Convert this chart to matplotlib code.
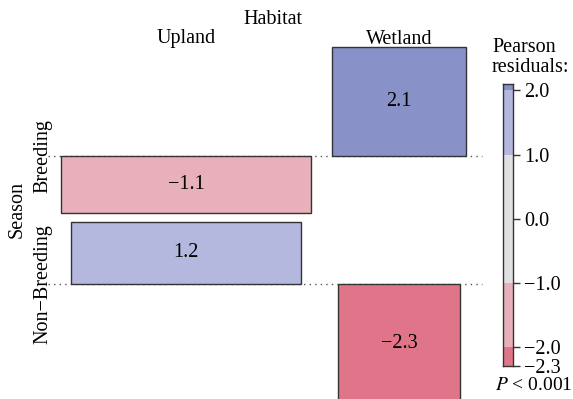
import numpy as np
import matplotlib
matplotlib.use('Agg')
import matplotlib.pyplot as plt

plt.rcParams['font.family'] = ['Liberation Serif', 'DejaVu Serif']
plt.rcParams['mathtext.fontset'] = 'stix'

# ---- data ----
habitat = ['Upland', 'Wetland']
season = ['Breeding', 'Non\u2212Breeding']
residuals = np.array([[-1.1, 2.1],
                      [1.2, -2.3]])
expected = np.array([[156.0, 45.5],
                     [133.0, 37.8]])   # bar width ~ sqrt(expected)
legend_breaks = [-2.3, -2.0, -1.0, 1.0, 2.0, 2.1]
legend_ticks = [2.0, 1.0, 0.0, -1.0, -2.0, -2.3]
p_text = '$P$ < 0.001'

fs = 14.5

# colours for shading levels
c_pos2 = '#8991c9'
c_pos1 = '#b4b8de'
c_mid = '#e0e0e0'
c_neg1 = '#e8b0ba'
c_neg2 = '#e0758a'


def shade(r):
    if r > 2:
        return c_pos2
    if r > 1:
        return c_pos1
    if r < -2:
        return c_neg2
    if r < -1:
        return c_neg1
    return c_mid


def fmt(v):
    return ('%.1f' % v).replace('-', '\u2212')


fig = plt.figure(figsize=(5.73, 3.99), dpi=100)
# axes reaches a bit below the figure so the big bar runs off the bottom
ax = fig.add_axes([0, -20 / 399, 1, 419 / 399])
ax.set_xlim(0, 573)
ax.set_ylim(419, 0)
ax.axis('off')

col_x = [186, 399]     # column centres (px)
row_y = [156, 284]     # baselines (px)
hscale = 52.0          # px per residual unit
wscale = 20.0          # px per sqrt(expected)

for i in range(2):
    ax.plot([48, 482], [row_y[i], row_y[i]], ls=(0, (1, 3)), color='#555555',
            lw=1, zorder=1)
    for j in range(2):
        r = residuals[i, j]
        w = np.sqrt(expected[i, j]) * wscale
        ax.bar(col_x[j], -r * hscale, width=w, bottom=row_y[i],
               color=shade(r), edgecolor='#333333', linewidth=1, zorder=2)
        ax.text(col_x[j], row_y[i] - r * hscale / 2, fmt(r),
                ha='center', va='center', fontsize=fs, zorder=3)

# labels
ax.text(273, 20, 'Habitat', ha='center', va='center', fontsize=fs)
for j in range(2):
    ax.text(col_x[j], 39, habitat[j], ha='center', va='center', fontsize=fs)
for i in range(2):
    ax.text(43, row_y[i], season[i], ha='center', va='center', rotation=90, fontsize=fs)
ax.text(17, 210, 'Season', ha='center', va='center', rotation=90, fontsize=fs)

ax.text(492, 48, 'Pearson', ha='left', va='center', fontsize=fs)
ax.text(492, 68, 'residuals:', ha='left', va='center', fontsize=fs)
ax.text(534, 386, p_text, ha='center', va='center', fontsize=14)

# legend colour bar
lax = fig.add_axes([503 / 573, (399 - 366) / 399, 10 / 573, (366 - 84) / 399])
lax.set_xlim(0, 1)
lax.set_ylim(legend_breaks[0], legend_breaks[-1])
for k in range(len(legend_breaks) - 1):
    lo, hi = legend_breaks[k], legend_breaks[k + 1]
    lax.axhspan(lo, hi, color=shade((lo + hi) / 2), lw=0)
lax.set_xticks([])
lax.yaxis.tick_right()
lax.set_yticks(legend_ticks)
lax.set_yticklabels([fmt(t) for t in legend_ticks], fontsize=fs)
lax.tick_params(axis='y', length=5, width=1, pad=3, color='#333333')
for s in lax.spines.values():
    s.set_color('#333333')
    s.set_linewidth(1)

fig.savefig('out.png', dpi=100)
